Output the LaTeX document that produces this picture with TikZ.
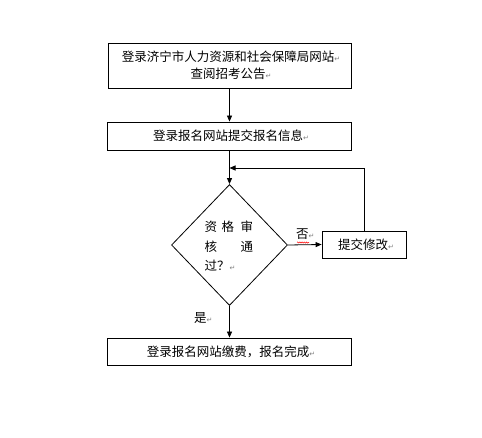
\documentclass[tikz,border=0pt]{standalone}
\usepackage{fontspec}
\setmainfont{Noto Sans CJK SC}
\newfontfamily\symfont{DejaVu Sans}
\usetikzlibrary{arrows.meta,shapes.geometric,decorations.pathmorphing}
\newcommand{\parmark}{{\symfont\fontsize{7}{7}\selectfont\color{gray}↵}}
\begin{document}
\begin{tikzpicture}[x=1pt,y=-1pt,
  box/.style={draw=black,line width=0.8pt,inner sep=0pt,anchor=center},
  lbl/.style={inner sep=0pt,font=\fontsize{12.5}{17}\selectfont},
  arr/.style={draw=black,line width=0.8pt,-{Triangle[length=6pt,width=5pt]}},
  ln/.style={draw=black,line width=0.8pt}]
\useasboundingbox (0,0) rectangle (482,438);
\fill[white] (0,0) rectangle (482,438);
% boxes
\node[box,minimum width=243pt,minimum height=45pt] (b1) at (229.5,65.5) {};
\node[box,minimum width=244pt,minimum height=28pt] (b2) at (229.5,136) {};
\node[diamond,draw=black,line width=0.8pt,inner sep=0pt,minimum width=116pt,minimum height=121pt] (d) at (229.5,245) {};
\node[box,minimum width=84pt,minimum height=27pt] (b3) at (364,244.5) {};
\node[box,minimum width=244pt,minimum height=27pt] (b4) at (229.5,351.5) {};
% texts
\node[lbl,align=center] (t1) at (231,65.5) {登录济宁市人力资源和社会保障局网站\parmark\\查阅招考公告\parmark};
\node[lbl] (t2) at (231,136) {登录报名网站提交报名信息\parmark};
\node[lbl,anchor=west] (r1) at (204.5,227) {资\hspace{4.5pt}格\hspace{6.5pt}审};
\node[lbl,anchor=west] (r2) at (204.5,247) {核\hspace{23.5pt}通};
\node[lbl,anchor=west] (r3) at (204.5,265.5) {过？\parmark};
\node[lbl] (t3) at (366,244.5) {提交修改\parmark};
\node[lbl] (t4) at (231,352) {登录报名网站缴费，报名完成\parmark};
\node[lbl,anchor=west] (no) at (296,234) {否\parmark};
\node[lbl,anchor=west] (yes) at (194,318) {是\parmark};
\draw[red,line width=0.5pt,decorate,decoration={snake,amplitude=0.6pt,segment length=2.2pt}] (297,242.5) -- (309,242.5);
% connectors
\coordinate (fb) at (229.5,168);
\draw[arr] (b1.south) -- (b2.north);
\draw[arr] (b2.south) -- (d.north);
\draw[arr] (d.east) -- (b3.west);
\draw[arr] (b3.north) |- (fb);
\draw[arr] (d.south) -- (b4.north);
\end{tikzpicture}
\end{document}
